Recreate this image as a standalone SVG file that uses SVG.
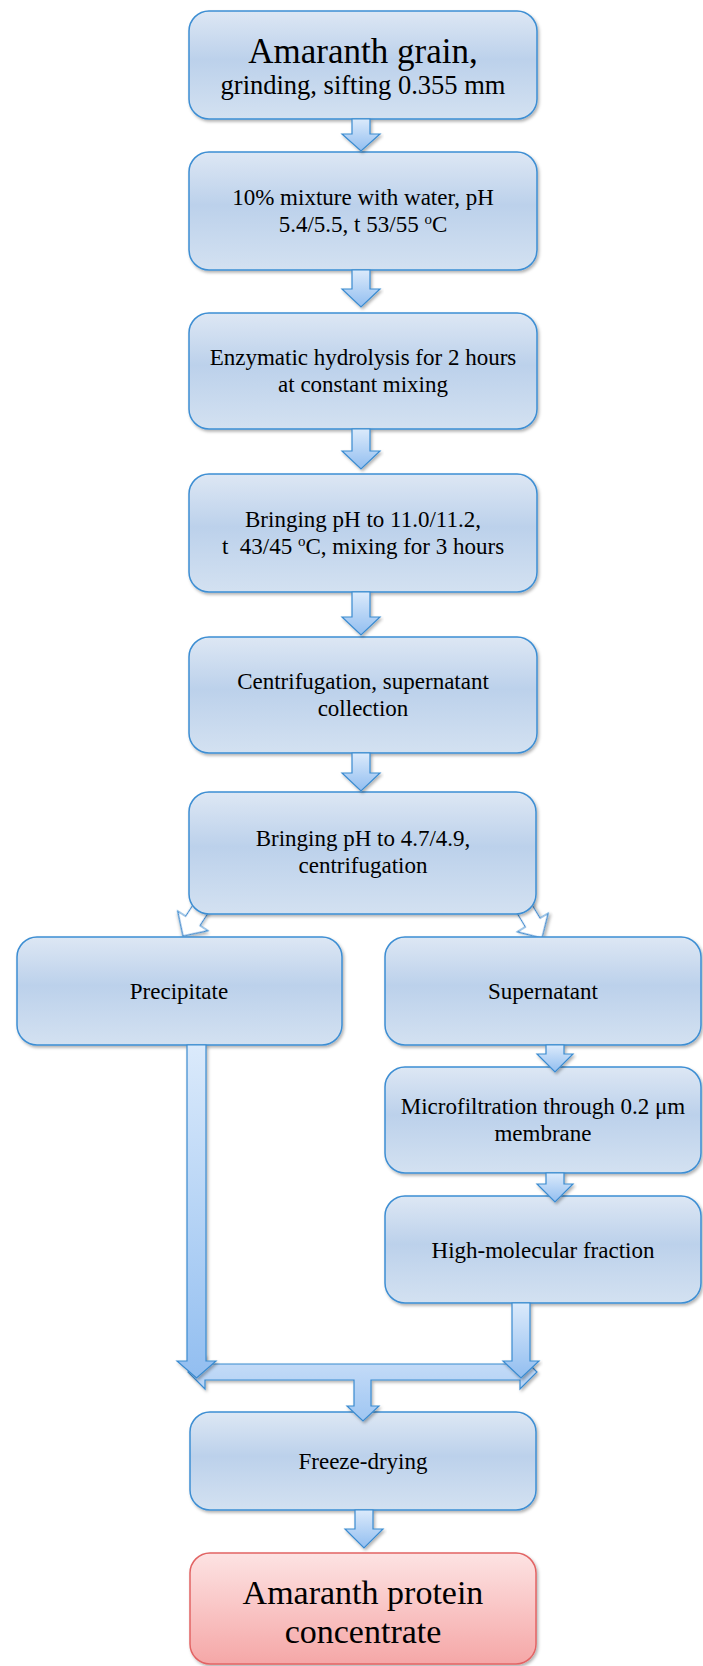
<svg xmlns="http://www.w3.org/2000/svg" width="703" height="1666" viewBox="0 0 703 1666">
<defs>
<linearGradient id="gBox" x1="0" y1="0" x2="0" y2="1">
<stop offset="0" stop-color="#dde7f4"/>
<stop offset="0.45" stop-color="#bcd1eb"/>
<stop offset="1" stop-color="#d3e1f1"/>
</linearGradient>
<linearGradient id="gRed" x1="0" y1="0" x2="0" y2="1">
<stop offset="0" stop-color="#fde3e3"/>
<stop offset="1" stop-color="#f5a7a7"/>
</linearGradient>
<linearGradient id="gArrow" x1="0" y1="0" x2="0" y2="1">
<stop offset="0" stop-color="#dbeafb"/>
<stop offset="1" stop-color="#92bef0"/>
</linearGradient>
<linearGradient id="gBar" x1="0" y1="0" x2="0" y2="1">
<stop offset="0" stop-color="#c9def8"/>
<stop offset="1" stop-color="#9fc6f2"/>
</linearGradient>
<filter id="sh" x="-10%" y="-10%" width="120%" height="130%">
<feDropShadow dx="1.5" dy="2" stdDeviation="1.5" flood-color="#000" flood-opacity="0.3"/>
</filter>
</defs>
<style>
.box{fill:url(#gBox);stroke:#3d8ed3;stroke-width:1.5;filter:url(#sh)}
.red{fill:url(#gRed);stroke:#e26464;stroke-width:1.5;filter:url(#sh)}
.arr{fill:url(#gArrow);stroke:#3a8bd0;stroke-width:1.2;stroke-linejoin:miter;filter:url(#sh)}
.bar{fill:url(#gBar);stroke:#3a8bd0;stroke-width:1.2;filter:url(#sh)}
.warr{fill:#ffffff;stroke:#3a8bd0;stroke-width:1.2;filter:url(#sh)}
text{font-family:"Liberation Serif","Times New Roman",serif;fill:#000;text-anchor:middle;font-size:23px}
text.big{font-size:35px}
text.mid{font-size:26.5px}
text.fin{font-size:34px}
tspan.sup{font-size:15px}
</style>
<rect width="703" height="1666" fill="#ffffff"/>

<g id="connectors-branch">
<path class="warr" transform="translate(183,936) rotate(33)" d="M0,0 L-18,-18 L-8.5,-18 L-8.5,-45 L8.5,-45 L8.5,-18 L18,-18 Z"/>
<path class="warr" transform="translate(542,938) rotate(-31)" d="M0,0 L-18,-18 L-8.5,-18 L-8.5,-45 L8.5,-45 L8.5,-18 L18,-18 Z"/>
</g>

<g id="n1">
<rect class="box" x="189" y="11" width="348" height="108" rx="20"/>
<text class="big" x="363" y="63">Amaranth grain,</text>
<text class="mid" x="363" y="94">grinding, sifting 0.355 mm</text>
</g>
<g id="n2">
<rect class="box" x="189" y="152" width="348" height="118" rx="20"/>
<text x="363" y="205">10% mixture with water, pH</text>
<text x="363" y="232">5.4/5.5, t 53/55 <tspan class="sup" dy="-8">o</tspan><tspan dy="8">C</tspan></text>
</g>
<g id="n3">
<rect class="box" x="189" y="313" width="348" height="116" rx="20"/>
<text x="363" y="365">Enzymatic hydrolysis for 2 hours</text>
<text x="363" y="392">at constant mixing</text>
</g>
<g id="n4">
<rect class="box" x="189" y="474" width="348" height="118" rx="20"/>
<text x="363" y="527">Bringing pH to 11.0/11.2,</text>
<text x="363" y="554" xml:space="preserve">t  43/45 <tspan class="sup" dy="-8">o</tspan><tspan dy="8">C, mixing for 3 hours</tspan></text>
</g>
<g id="n5">
<rect class="box" x="189" y="637" width="348" height="116" rx="20"/>
<text x="363" y="689">Centrifugation, supernatant</text>
<text x="363" y="716">collection</text>
</g>
<g id="n6">
<rect class="box" x="189" y="792" width="347" height="122" rx="20"/>
<text x="363" y="846">Bringing pH to 4.7/4.9,</text>
<text x="363" y="873">centrifugation</text>
</g>
<g id="n7">
<rect class="box" x="17" y="937" width="325" height="108" rx="20"/>
<text x="179" y="999">Precipitate</text>
</g>
<g id="n8">
<rect class="box" x="385" y="937" width="316" height="108" rx="20"/>
<text x="543" y="999">Supernatant</text>
</g>
<g id="n9">
<rect class="box" x="385" y="1067" width="316" height="106" rx="20"/>
<text x="543" y="1114">Microfiltration through 0.2 μm</text>
<text x="543" y="1141">membrane</text>
</g>
<g id="n10">
<rect class="box" x="385" y="1196" width="316" height="107" rx="20"/>
<text x="543" y="1258">High-molecular fraction</text>
</g>
<g id="n11">
<rect class="box" x="190" y="1412" width="346" height="98" rx="20"/>
<text x="363" y="1469">Freeze-drying</text>
</g>
<g id="n12">
<rect class="red" x="190" y="1553" width="346" height="111" rx="20"/>
<text class="fin" x="363" y="1604">Amaranth protein</text>
<text class="fin" x="363" y="1643">concentrate</text>
</g>

<g id="connectors">
<path class="arr" d="M352,119 H370 V134 H380 L361,151 L342,134 H352 Z"/>
<path class="arr" d="M352,270 H370 V289 H380 L361,307 L342,289 H352 Z"/>
<path class="arr" d="M352,429 H370 V451 H380 L361,469 L342,451 H352 Z"/>
<path class="arr" d="M352,592 H370 V617 H380 L361,635 L342,617 H352 Z"/>
<path class="arr" d="M352,753 H370 V773 H380 L361,791 L342,773 H352 Z"/>
<path class="arr" d="M546,1045 H564 V1054 H573 L555,1072 L537,1054 H546 Z"/>
<path class="arr" d="M546,1173 H564 V1184 H573 L555,1202 L537,1184 H546 Z"/>
<path class="bar" d="M188,1372 L205,1355 V1364 H520 V1355 L537,1372 L520,1389 V1380 H371 V1406 H379 L363,1421 L347,1406 H354 V1380 H205 V1389 Z"/>
<path class="arr" d="M187,1045 H206 V1361 H216 L196.5,1378 L177,1361 H187 Z"/>
<path class="arr" d="M512,1303 H530 V1361 H539 L521,1378 L503,1361 H512 Z"/>
<path class="arr" d="M355,1510 H373 V1529 H383 L364,1548 L345,1529 H355 Z"/>
</g>
</svg>
